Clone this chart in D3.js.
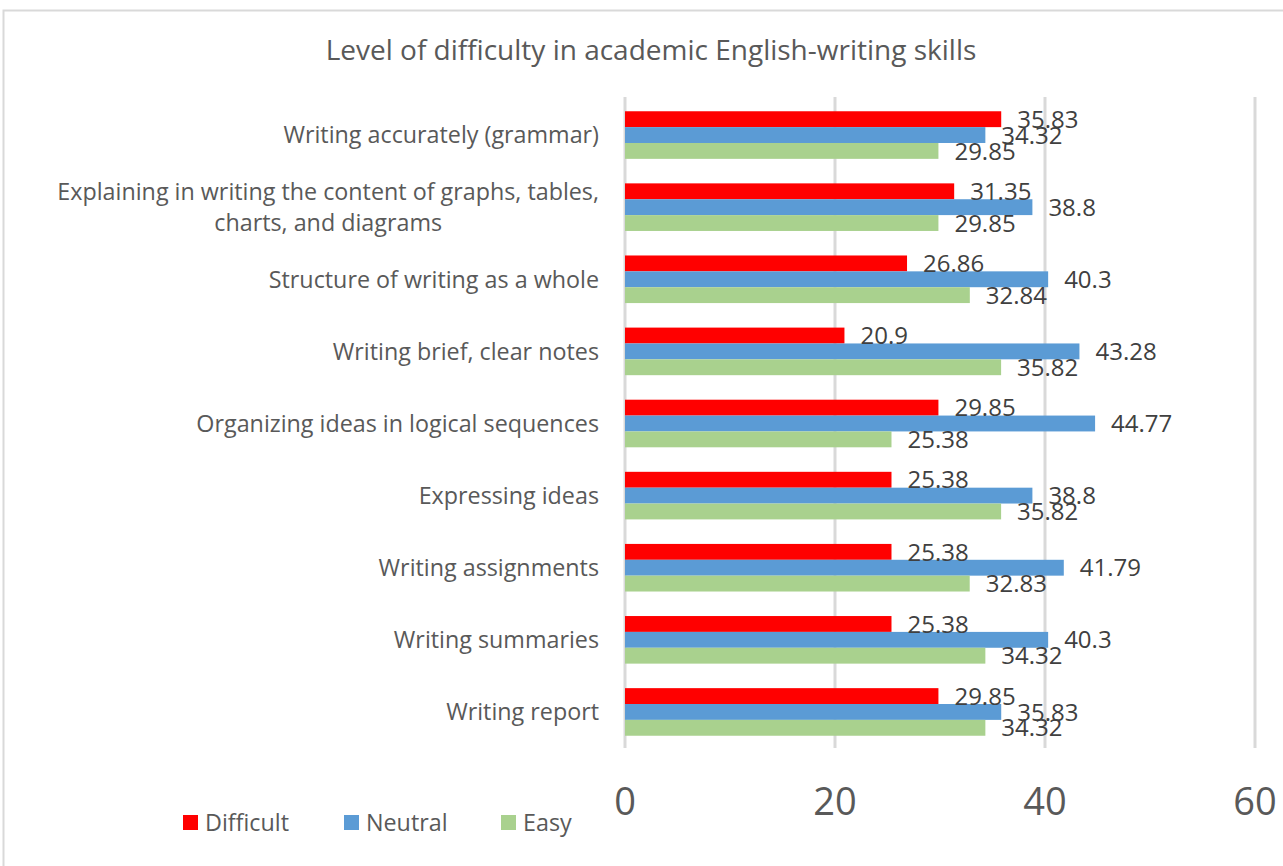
<!DOCTYPE html>
<html>
<head>
<meta charset="utf-8">
<script src="https://cdn.jsdelivr.net/npm/d3@7"></script>
<style>
  html, body { margin: 0; padding: 0; background: #fff; }
  svg { display: block; font-family: "Open Sans", sans-serif; }
</style>
</head>
<body>
<svg id="chart" width="1283" height="866"></svg>
<script>
// Skills, top to bottom
const categories = [
  "Writing accurately (grammar)",
  "Explaining in writing the content of graphs, tables, charts, and diagrams",
  "Structure of writing as a whole",
  "Writing brief, clear notes",
  "Organizing ideas in logical sequences",
  "Expressing ideas",
  "Writing assignments",
  "Writing summaries",
  "Writing report"
];
// Wrapped label lines for the long category
const categoryLines = {
  "Explaining in writing the content of graphs, tables, charts, and diagrams":
    ["Explaining in writing the content of graphs, tables,", "charts, and diagrams"]
};
const seriesNames = ["Difficult", "Neutral", "Easy"];
const difficult = [35.83, 31.35, 26.86, 20.9, 29.85, 25.38, 25.38, 25.38, 29.85];
const neutral   = [34.32, 38.8, 40.3, 43.28, 44.77, 38.8, 41.79, 40.3, 35.83];
const easy      = [29.85, 29.85, 32.84, 35.82, 25.38, 35.82, 32.83, 34.32, 34.32];
const xTicks = [0, 20, 40, 60];
const title = "Level of difficulty in academic English-writing skills";

const seriesValues = [difficult, neutral, easy];
const colors = ["#FF0000", "#5B9BD5", "#A9D18E"];

const svg = d3.select("#chart");

// outer chart frame
svg.append("rect")
  .attr("x", 3.5).attr("y", 10.5)
  .attr("width", 1300).attr("height", 900)
  .attr("fill", "#fff")
  .attr("stroke", "#d9d9d9").attr("stroke-width", 2);

const x = d3.scaleLinear().domain([0, 60]).range([625, 1255]);
const y = d3.scaleBand().domain(categories).range([99, 748])
  .paddingInner(0.34).paddingOuter(0.17);
const ySub = d3.scaleBand().domain(seriesNames).range([0, y.bandwidth()]);

// vertical gridlines
svg.append("g").selectAll("line").data(xTicks).join("line")
  .attr("x1", d => x(d)).attr("x2", d => x(d))
  .attr("y1", 97).attr("y2", 748)
  .attr("stroke", "#d9d9d9").attr("stroke-width", 3);

// title
svg.append("text")
  .attr("x", 651).attr("y", 50)
  .attr("dy", "0.36em")
  .attr("text-anchor", "middle")
  .attr("font-size", 28).attr("fill", "#595959")
  .text(title);

// bars
const rows = categories.map((c, i) => ({
  cat: c,
  vals: seriesNames.map((s, j) => ({ s, j, v: seriesValues[j][i] }))
}));

const groups = svg.append("g").selectAll("g").data(rows).join("g")
  .attr("transform", d => `translate(0,${y(d.cat)})`);

groups.selectAll("rect").data(d => d.vals).join("rect")
  .attr("x", x(0))
  .attr("y", d => ySub(d.s))
  .attr("width", d => x(d.v) - x(0))
  .attr("height", ySub.bandwidth())
  .attr("fill", d => colors[d.j]);

groups.selectAll("text.val").data(d => d.vals).join("text")
  .attr("class", "val")
  .attr("x", d => x(d.v) + 16)
  .attr("y", d => ySub(d.s) + ySub.bandwidth() / 2)
  .attr("dy", "0.36em")
  .attr("font-size", 24).attr("fill", "#404040")
  .text(d => d.v);

// category labels
const catLabels = svg.append("g").selectAll("text").data(categories).join("text")
  .attr("text-anchor", "end")
  .attr("font-size", 23.3).attr("fill", "#595959")
  .attr("transform", d => `translate(599,${y(d) + y.bandwidth() / 2})`);
catLabels.each(function (d) {
  const lines = categoryLines[d] || [d];
  const t = d3.select(this);
  const lh = 31;
  lines.forEach((ln, k) => {
    t.append("tspan")
      .attr("x", 0)
      .attr("y", (k - (lines.length - 1) / 2) * lh)
      .attr("dy", "0.36em")
      .attr("text-anchor", k === 0 ? "end" : "middle")
      .text(ln);
  });
});
// centre the wrapped second line under the first
catLabels.filter(d => categoryLines[d]).each(function () {
  const spans = d3.select(this).selectAll("tspan").nodes();
  const w = spans[0].getComputedTextLength();
  d3.select(spans[1]).attr("x", -w / 2);
});

// x axis tick labels
svg.append("g").selectAll("text").data(xTicks).join("text")
  .attr("x", d => x(d)).attr("y", 815)
  .attr("text-anchor", "middle")
  .attr("font-size", 38).attr("fill", "#595959")
  .text(d => d);

// legend
const legendX = [183, 344, 501];
const legend = svg.append("g").selectAll("g").data(seriesNames).join("g")
  .attr("transform", (d, i) => `translate(${legendX[i]},815)`);
legend.append("rect").attr("width", 15).attr("height", 15)
  .attr("fill", (d, i) => colors[i]);
legend.append("text").attr("x", 22).attr("y", 7.5).attr("dy", "0.36em")
  .attr("font-size", 23.3).attr("fill", "#595959")
  .text(d => d);
</script>
</body>
</html>
